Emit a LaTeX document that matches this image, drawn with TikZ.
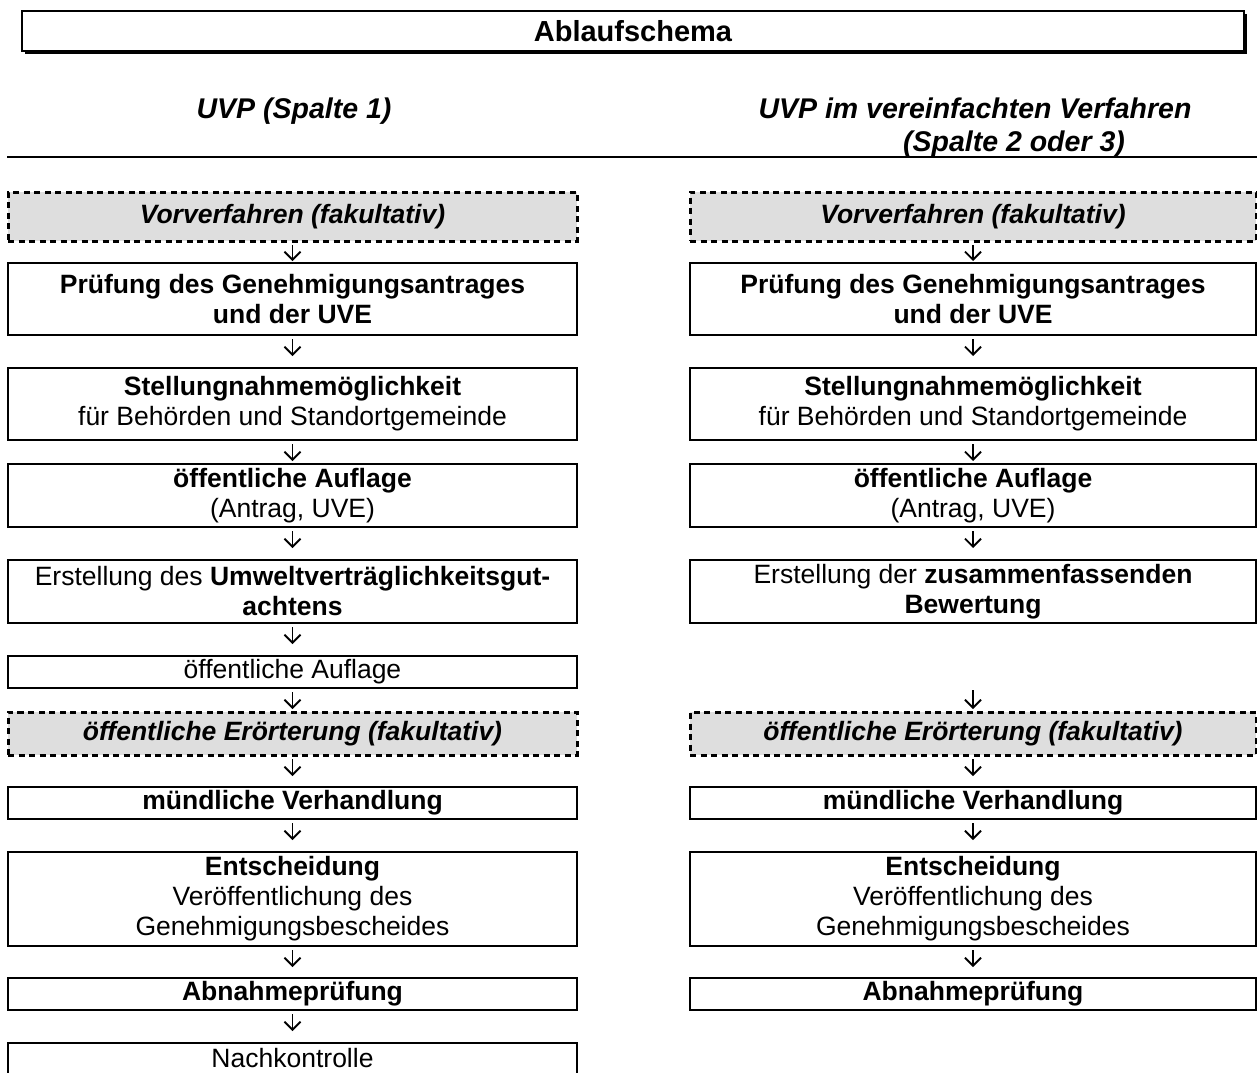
\documentclass[tikz,border=0pt]{standalone}
\usepackage{fontspec}
\setmainfont{Liberation Sans}
\usetikzlibrary{arrows.meta,shadows}
\definecolor{fillgray}{RGB}{222,222,222}
\begin{document}
\begin{tikzpicture}[x=1pt,y=-1pt,
  every node/.style={inner sep=0pt, outer sep=0pt, align=center, font=\fontsize{26.5}{30}\selectfont},
  lbox/.style={draw, line width=2.6pt, minimum width=569pt},
  rbox/.style={draw, line width=2.6pt, minimum width=566pt},
  dashbox/.style={fill=fillgray, dash pattern=on 6pt off 4.5pt, line width=3pt, font=\fontsize{26.5}{30}\selectfont\bfseries\itshape},
  heading/.style={anchor=base, font=\fontsize{28.5}{33}\selectfont\bfseries\itshape},
  arr/.style={line width=1.9pt, -{Straight Barb[length=8pt,width=16pt]}, shorten <=4pt},
  rulestyle/.style={line width=2.4pt}
]
\useasboundingbox (0,0) rectangle (1257,1072);
\clip (0,0) rectangle (1257,1072);

% title
\node[draw, fill=white, line width=2.6pt, minimum width=1222pt, minimum height=40pt,
      drop shadow={shadow xshift=3pt, shadow yshift=-3pt, fill=black, opacity=1},
      font=\fontsize{29}{33}\selectfont\bfseries] (title) at (633,31) {Ablaufschema};

% headings
\node[heading] (h1) at (294,118) {UVP (Spalte 1)};
\node[heading] (h2a) at (975,118) {UVP im vereinfachten Verfahren};
\node[heading] (h2b) at (1014,151) {(Spalte 2 oder 3)};
\draw[rulestyle] (7,157) -- (1257,157);

% left column
\node[lbox, dashbox, minimum height=49pt] (l1) at (292.5,216.5) {Vorverfahren (fakultativ)};
\node[lbox, minimum height=72pt] (l2) at (292.5,299) {\textbf{Prüfung des Genehmigungsantrages}\\\textbf{und der UVE}};
\node[lbox, minimum height=72pt] (l3) at (292.5,404) {\textbf{Stellungnahmemöglichkeit}\\für Behörden und Standortgemeinde};
\node[lbox, minimum height=63pt] (l4) at (292.5,495.5) {\textbf{öffentliche Auflage}\\(Antrag, UVE)};
\node[lbox, minimum height=63pt] (l5) at (292.5,591.5) {Erstellung des \textbf{Umweltverträglichkeitsgut-}\\\textbf{achtens}};
\node[lbox, minimum height=32pt] (l6) at (292.5,672) {öffentliche Auflage};
\node[lbox, dashbox, minimum height=43pt] (l7) at (292.5,733.5) {öffentliche Erörterung (fakultativ)};
\node[lbox, minimum height=32pt] (l8) at (292.5,803) {\textbf{mündliche Verhandlung}};
\node[lbox, minimum height=94pt] (l9) at (292.5,899) {\textbf{Entscheidung}\\Veröffentlichung des\\Genehmigungsbescheides};
\node[lbox, minimum height=32pt] (l10) at (292.5,994) {\textbf{Abnahmeprüfung}};
\node[lbox, anchor=north, inner ysep=5pt, text depth=22pt] (l11) at (292.5,1043) {Nachkontrolle};

% right column
\node[rbox, dashbox, minimum height=49pt] (r1) at (973,216.5) {Vorverfahren (fakultativ)};
\node[rbox, minimum height=72pt] (r2) at (973,299) {\textbf{Prüfung des Genehmigungsantrages}\\\textbf{und der UVE}};
\node[rbox, minimum height=72pt] (r3) at (973,404) {\textbf{Stellungnahmemöglichkeit}\\für Behörden und Standortgemeinde};
\node[rbox, minimum height=63pt] (r4) at (973,495.5) {\textbf{öffentliche Auflage}\\(Antrag, UVE)};
\node[rbox, minimum height=63pt] (r5) at (973,591.5) {Erstellung der \textbf{zusammenfassenden}\\\textbf{Bewertung}};
\node[rbox, dashbox, minimum height=43pt] (r7) at (973,733.5) {öffentliche Erörterung (fakultativ)};
\node[rbox, minimum height=32pt] (r8) at (973,803) {\textbf{mündliche Verhandlung}};
\node[rbox, minimum height=94pt] (r9) at (973,899) {\textbf{Entscheidung}\\Veröffentlichung des\\Genehmigungsbescheides};
\node[rbox, minimum height=32pt] (r10) at (973,994) {\textbf{Abnahmeprüfung}};

% arrows left
\draw[arr, shorten >=2pt] (l1) -- (l2);
\draw[arr, shorten >=12pt] (l2) -- (l3);
\draw[arr, shorten >=3pt] (l3) -- (l4);
\draw[arr, shorten >=12pt] (l4) -- (l5);
\draw[arr, shorten >=12pt] (l5) -- (l6);
\draw[arr, shorten >=3pt] (l6) -- (l7);
\draw[arr, shorten >=11pt] (l7) -- (l8);
\draw[arr, shorten >=12pt] (l8) -- (l9);
\draw[arr, shorten >=11pt] (l9) -- (l10);
\draw[arr, shorten >=12pt] (l10) -- (l11);

% arrows right
\draw[arr, shorten >=2pt] (r1) -- (r2);
\draw[arr, shorten >=12pt] (r2) -- (r3);
\draw[arr, shorten >=3pt] (r3) -- (r4);
\draw[arr, shorten >=12pt] (r4) -- (r5);
\draw[arr, shorten <=67pt, shorten >=3pt] (r5) -- (r7);
\draw[arr, shorten >=11pt] (r7) -- (r8);
\draw[arr, shorten >=12pt] (r8) -- (r9);
\draw[arr, shorten >=11pt] (r9) -- (r10);
\end{tikzpicture}
\end{document}
